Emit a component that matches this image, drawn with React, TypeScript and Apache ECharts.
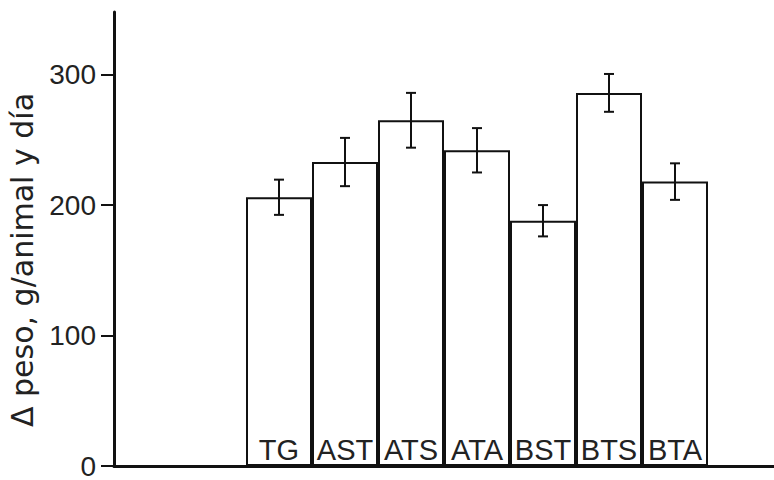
import React, { useEffect, useRef } from "react";
import * as echarts from "echarts";

const LABELS = ["TG", "AST", "ATS", "ATA", "BST", "BTS", "BTA"];
const MEANS = [206, 233, 265, 242, 188, 286, 218];
const ERRORS = [13.5, 18.5, 21, 17, 12, 14.5, 14];
const Y_TICKS = [0, 100, 200, 300];
const Y_NAME = "Δ peso, g/animal y día";
const LEADING_EMPTY = 2;
const TRAILING_EMPTY = 1;

export default function App() {
  const ref = useRef<HTMLDivElement>(null);
  useEffect(() => {
    if (!ref.current) return;
    const chart = echarts.init(ref.current, null, { renderer: "svg" });
    const lead = Array(LEADING_EMPTY).fill("");
    const trail = Array(TRAILING_EMPTY).fill("");
    const categories = [...lead, ...LABELS, ...trail];
    const barData = [
      ...lead.map(() => null),
      ...MEANS.map((v, i) => ({ value: v, name: LABELS[i] })),
      ...trail.map(() => null),
    ];
    const errData = MEANS.map((m, i) => [i + LEADING_EMPTY, m - ERRORS[i], m + ERRORS[i]]);
    const font = "Liberation Sans";
    chart.setOption({
      animation: false,
      backgroundColor: "#ffffff",
      grid: { left: 114, top: 12, width: 665, bottom: 14 },
      graphic: [
        {
          type: "text",
          x: 22,
          y: 260,
          rotation: Math.PI / 2,
          style: {
            text: Y_NAME,
            font: "30px 'DejaVu Sans'",
            fill: "#222",
            textAlign: "center",
            textVerticalAlign: "middle",
          },
        },
      ],
      xAxis: {
        type: "category",
        data: categories,
        axisLine: { lineStyle: { color: "#111", width: 3 } },
        axisTick: { show: false },
        axisLabel: { show: false },
      },
      yAxis: {
        type: "value",
        min: 0,
        max: 348,
        axisLine: { show: true, lineStyle: { color: "#111", width: 3 } },
        axisTick: {
          show: true,
          inside: false,
          length: 13,
          customValues: Y_TICKS,
          lineStyle: { color: "#111", width: 2 },
        },
        axisLabel: {
          customValues: Y_TICKS,
          margin: 18,
          padding: [6, 0, 0, 0],
          fontFamily: font,
          fontSize: 28,
          color: "#222",
        },
        splitLine: { show: false },
      },
      series: [
        {
          type: "bar",
          data: barData,
          barCategoryGap: 0,
          itemStyle: { color: "#fff", borderColor: "#111", borderWidth: 2 },
          label: {
            show: true,
            position: "insideBottom",
            distance: 2,
            formatter: (p: any) => p.name,
            fontFamily: font,
            fontSize: 29,
            color: "#222",
          },
        },
        {
          type: "custom",
          data: errData,
          z: 10,
          renderItem: (params: any, api: any) => {
            const x = api.value(0);
            const lo = api.coord([x, api.value(1)]);
            const hi = api.coord([x, api.value(2)]);
            const hw = 5;
            const style = { stroke: "#111", lineWidth: 2 };
            return {
              type: "group",
              children: [
                { type: "line", shape: { x1: lo[0], y1: lo[1], x2: hi[0], y2: hi[1] }, style },
                { type: "line", shape: { x1: hi[0] - hw, y1: hi[1], x2: hi[0] + hw, y2: hi[1] }, style },
                { type: "line", shape: { x1: lo[0] - hw, y1: lo[1], x2: lo[0] + hw, y2: lo[1] }, style },
              ],
            };
          },
        },
      ],
    });
    return () => chart.dispose();
  }, []);
  return (
    <div
      ref={ref}
      style={{ position: "fixed", left: 0, top: 0, width: 774, height: 480 }}
    />
  );
}
